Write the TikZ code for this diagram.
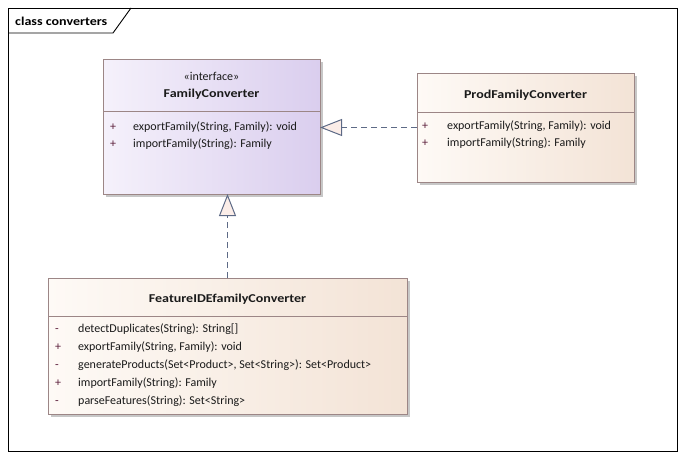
\documentclass[tikz,border=0pt]{standalone}
\usepackage{fontspec}
\setmainfont{Carlito}[BoldFeatures={FakeStretch=1.17}]
\usetikzlibrary{arrows.meta, positioning, calc, shadows}

\definecolor{ifaceA}{HTML}{F5F1FB}
\definecolor{ifaceB}{HTML}{DACEEE}
\definecolor{classA}{HTML}{FEFAF6}
\definecolor{classB}{HTML}{F3E3D6}
\definecolor{boxline}{HTML}{9C8686}
\definecolor{linkline}{HTML}{5D6A86}
\definecolor{tipfill}{HTML}{FBEDE8}
\definecolor{visib}{HTML}{5A1E3A}
\definecolor{membertext}{HTML}{1A1A1A}

\begin{document}
\begin{tikzpicture}[x=1pt, y=-1pt, font=\fontsize{12}{14}\selectfont,
    umlbox/.style={rectangle, draw=boxline, line width=0.9pt, inner sep=0pt, outer sep=0pt,
        drop shadow={shadow xshift=2.5pt, shadow yshift=-2.5pt, fill=black!22, opacity=1}},
    ifacebox/.style={umlbox, left color=ifaceA, right color=ifaceB},
    classbox/.style={umlbox, left color=classA, right color=classB},
    sep/.style={draw=boxline, line width=0.9pt},
    title/.style={anchor=base, font=\fontsize{12}{14}\selectfont\bfseries, text=membertext},
    member/.style={anchor=base west, inner sep=0pt, text=membertext},
    realize/.style={draw=linkline, line width=0.9pt, dash pattern=on 6pt off 4pt,
        -{Triangle[length=22pt, width=17pt, fill=tipfill, line width=1pt]}}]
    \useasboundingbox (0,0) rectangle (685,458);

    % frame
    \draw[line width=0.9pt] (8,8) rectangle (677,451);
    \draw[line width=0.9pt] (8,33) -- (113,33) -- (131,8);
    \node[anchor=base west, inner sep=0pt, font=\fontsize{12}{14}\selectfont\bfseries] (frametitle) at (15,25) {class converters};

    % classes
    \node[ifacebox, minimum width=217pt, minimum height=135pt] (famconv) at (211.5,126.5) {};
    \node[classbox, minimum width=217pt, minimum height=109pt] (prodconv) at (525.5,127.5) {};
    \node[classbox, minimum width=359pt, minimum height=136pt] (ideconv) at (227.5,346) {};

    \draw[sep] ($(famconv.north west)+(0,52)$) -- ($(famconv.north east)+(0,52)$);
    \draw[sep] ($(prodconv.north west)+(0,39)$) -- ($(prodconv.north east)+(0,39)$);
    \draw[sep] ($(ideconv.north west)+(0,38)$) -- ($(ideconv.north east)+(0,38)$);

    \node[anchor=base, text=membertext] at ($(famconv.north)+(0,21)$) {«interface»};
    \node[title] at ($(famconv.north)+(0,38)$) {FamilyConverter};
    \node[title] at ($(prodconv.north)+(0,25)$) {ProdFamilyConverter};
    \node[title] at ($(ideconv.north)+(0,24)$) {FeatureIDEfamilyConverter};

    \foreach \v/\txt [count=\i] in {+/{exportFamily(String, Family): void}, +/{importFamily(String): Family}} {
        \node[member, text=visib] at ($(famconv.north west)+(7,53.5+17.5*\i)$) {\v};
        \node[member] at ($(famconv.north west)+(30,53.5+17.5*\i)$) {\txt};
    }
    \foreach \v/\txt [count=\i] in {+/{exportFamily(String, Family): void}, +/{importFamily(String): Family}} {
        \node[member, text=visib] at ($(prodconv.north west)+(5,38.5+17.5*\i)$) {\v};
        \node[member] at ($(prodconv.north west)+(30,38.5+17.5*\i)$) {\txt};
    }
    \foreach \v/\txt [count=\i] in {-/{detectDuplicates(String): String[]},
            +/{exportFamily(String, Family): void},
            -/{generateProducts(Set<Product>, Set<String>): Set<Product>},
            +/{importFamily(String): Family},
            -/{parseFeatures(String): Set<String>}} {
        \node[member, text=visib] at ($(ideconv.north west)+(7,36+18*\i)$) {\v};
        \node[member] at ($(ideconv.north west)+(30,36+18*\i)$) {\txt};
    }

    % realizations
    \draw[realize] (prodconv.west) -- (prodconv.west -| famconv.east);
    \draw[realize] (ideconv.north) -- (ideconv.north |- famconv.south);
\end{tikzpicture}
\end{document}
